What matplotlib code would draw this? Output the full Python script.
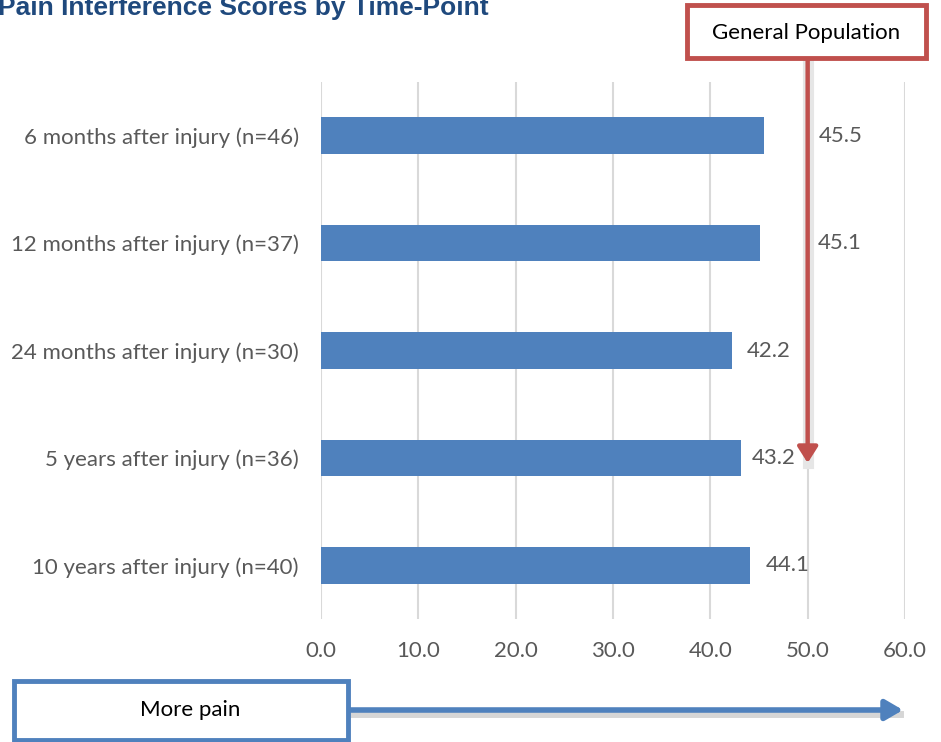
import matplotlib
matplotlib.use("Agg")
import matplotlib.pyplot as plt
from matplotlib.patches import Rectangle, FancyArrowPatch

categories = ["6 months after injury (n=46)", "12 months after injury (n=37)",
              "24 months after injury (n=30)", "5 years after injury (n=36)",
              "10 years after injury (n=40)"]
values = [45.5, 45.1, 42.2, 43.2, 44.1]
xticks = [0, 10, 20, 30, 40, 50, 60]
title = "Pain Interference Scores by Time-Point"
ref_label = "General Population"
ref_value = 50
direction_label = "More pain"

label_offsets = [55, 58, 15, 10, 16]  # pixel offsets of value labels from bar ends

W, H = 941, 742
fig = plt.figure(figsize=(W / 100, H / 100), dpi=100)
ax = fig.add_axes([321 / W, 1 - 619 / H, (905 - 321) / W, (619 - 82) / H])

font = "Lato"
grey = "#595959"
blue = "#4F81BD"
red = "#C0504D"
fs = 16

ypos = list(range(len(categories)))
ax.barh(ypos, values, height=0.34, color=blue, zorder=3)
ax.set_ylim(len(categories) - 0.5, -0.5)
ax.set_xlim(0, 60)
ax.set_xticks(xticks)
ax.set_xticklabels([f"{t:.1f}" for t in xticks], fontsize=fs, color=grey, family=font)
ax.set_yticks(ypos)
ax.set_yticklabels(categories, fontsize=fs, color=grey, family=font)
ax.tick_params(length=0)
ax.tick_params(axis="x", pad=16)
ax.tick_params(axis="y", pad=16)
ax.grid(axis="x", color="#D9D9D9", lw=1.5, zorder=0)
for s in ax.spines.values():
    s.set_visible(False)

for y, v, off in zip(ypos, values, label_offsets):
    ax.annotate(f"{v:.1f}", xy=(v, y), xytext=(off * 0.72, 0), textcoords="offset points",
                ha="left", va="center", fontsize=fs, color=grey, family=font, zorder=5)

# title
fig.text(-2 / W, 1 - 8 / H, title, fontsize=19, fontweight="bold", color="#1F497D",
         family="Liberation Sans", ha="left", va="center")

# General Population box and arrow
ref_x_fig = ax.transData.transform((ref_value, 0))[0] / W
y_top = 1 - 58 / H
y_bot = 1 - 463 / H
fig.add_artist(plt.Line2D([ref_x_fig] * 2, [y_top, y_bot], transform=fig.transFigure,
                          color="#E6E6E6", lw=8, zorder=4))
fig.add_artist(FancyArrowPatch((ref_x_fig, y_top), (ref_x_fig, y_bot), transform=fig.transFigure,
                               arrowstyle="-|>,head_length=6,head_width=3.8", color=red, lw=3.2,
                               shrinkA=0, shrinkB=0, mutation_scale=1.6, zorder=6))
fig.add_artist(Rectangle((687 / W, 1 - 58 / H), (926 - 687) / W, (58 - 5) / H,
                         transform=fig.transFigure, fc="white", ec=red, lw=3.5, zorder=7))
fig.text(806 / W, 1 - 33 / H, ref_label, fontsize=fs, color="black", family=font,
         ha="center", va="center", zorder=8)

# More pain box and arrow
fig.add_artist(plt.Line2D([348 / W, 900 / W], [1 - 714 / H] * 2, transform=fig.transFigure,
                          color="#D6D6D6", lw=5, zorder=4))
fig.add_artist(FancyArrowPatch((348 / W, 1 - 710 / H), (903 / W, 1 - 710 / H),
                               transform=fig.transFigure,
                               arrowstyle="-|>,head_length=6.5,head_width=3.8", color=blue, lw=4,
                               shrinkA=0, shrinkB=0, mutation_scale=1.6, zorder=6))
fig.add_artist(Rectangle((14 / W, 1 - 740 / H), (348 - 14) / W, (740 - 681) / H,
                         transform=fig.transFigure, fc="white", ec=blue, lw=3.5, zorder=7))
fig.text(190 / W, 1 - 710 / H, direction_label, fontsize=fs, color="black", family=font,
         ha="center", va="center", zorder=8)

fig.savefig("out.png", dpi=100)
